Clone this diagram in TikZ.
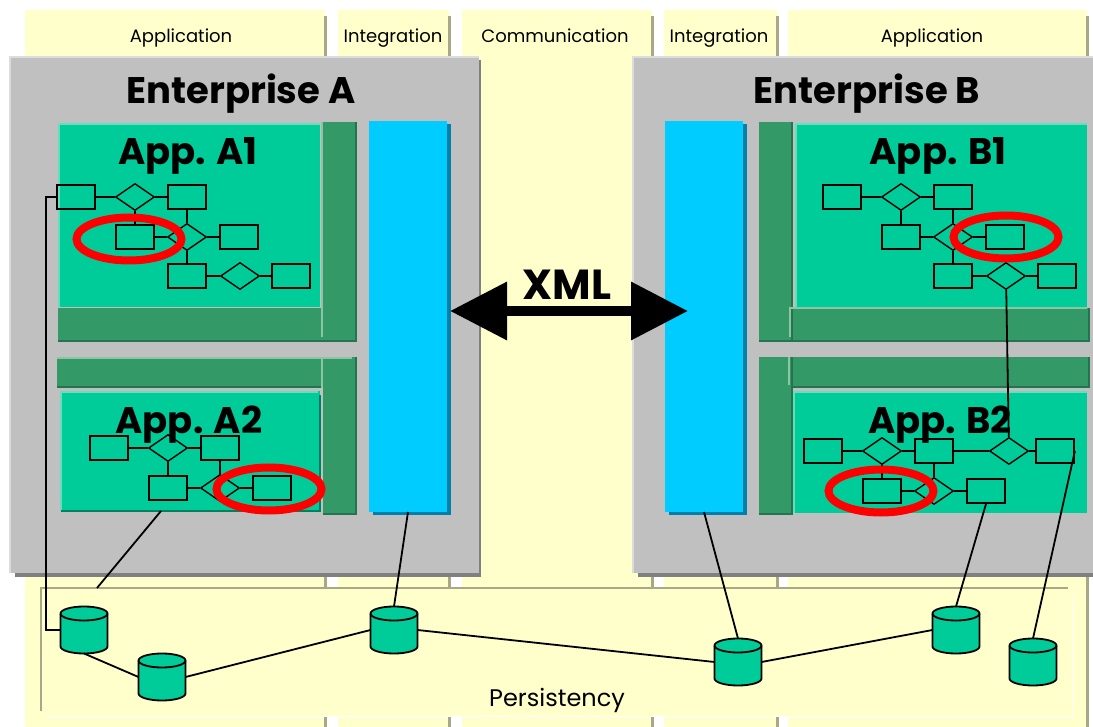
\documentclass[tikz,border=0pt]{standalone}
\usepackage{fontspec}
\setmainfont{Poppins}
\usetikzlibrary{shapes.geometric,arrows.meta}
\definecolor{colyellow}{HTML}{FFFFCC}
\definecolor{colshade}{HTML}{A8A888}
\definecolor{panelgray}{HTML}{C0C0C0}
\definecolor{panelshade}{HTML}{808080}
\definecolor{panellight}{HTML}{DCDCDC}
\definecolor{appgreen}{HTML}{00CC99}
\definecolor{applight}{HTML}{66DDBB}
\definecolor{appshade}{HTML}{008060}
\definecolor{barlight}{HTML}{8CC4A4}
\definecolor{bargreen}{HTML}{339966}
\definecolor{barshade}{HTML}{267350}
\definecolor{busblue}{HTML}{00CCFF}
\definecolor{busshade}{HTML}{0080A8}
\tikzset{
  plate/.style={inner sep=0,outer sep=0},
  collabel/.style={anchor=base,inner sep=0,font=\fontsize{18}{20}\selectfont},
  headlabel/.style={anchor=base,inner sep=0,font=\fontsize{37}{40}\selectfont\bfseries},
  applabel/.style={anchor=base,inner sep=0,font=\fontsize{37}{40}\selectfont\bfseries},
  entbox/.style={draw,line width=1.8pt,inner sep=0,minimum width=38,minimum height=24},
  relbox/.style={draw,line width=1.4pt,diamond,aspect=1.45,inner sep=0,minimum width=39,minimum height=27},
  marked/.style={draw=red,line width=8pt,ellipse,inner sep=0,minimum width=105,minimum height=43},
  storebox/.style={plate,minimum width=47,minimum height=47},
  link/.style={line width=1.8pt}
}
\begin{document}
\begin{tikzpicture}[x=1pt,y=-1pt]
  \useasboundingbox (0,0) rectangle (1093,727);
  \fill[white] (0,0) rectangle (1093,727);

  % columns
  \foreach \xa/\xb in {25/325,338/449,462/652,664/777,788/1087} {
    \fill[colyellow,rounded corners=2pt] (\xa,10) -- (\xb,10) -- (\xb,727) -- (\xa,727) -- cycle;
    \fill[colshade] (\xb-1,16) rectangle (\xb+2,727);
  }
  \node[collabel] (colA) at (181,43) {Application};
  \node[collabel] (colB) at (393,43) {Integration};
  \node[collabel] (colC) at (555,43) {Communication};
  \node[collabel] (colD) at (719,43) {Integration};
  \node[collabel] (colE) at (932,43) {Application};

  % persistency band
  \node[plate,fill=colyellow,minimum width=1032,minimum height=128] (persist) at (557,652) {};
  \draw[colshade,line width=1.5pt] (41,711) -- (41,588) -- (1068,588);
  \draw[white,line width=1pt] (45,716) -- (1073,716) -- (1073,595);
  \node[collabel,font=\fontsize{24}{28}\selectfont] (persistLabel) at (557,706) {Persistency};

  % enterprises
  \foreach \xa/\xb in {9/479,632/1093} {
    \fill[panelshade] (\xa+6,60) rectangle (\xb+2,577);
    \fill[panelgray] (\xa,56) rectangle (\xb,573);
    \draw[panellight,line width=2pt] (\xa+1,573) -- (\xa+1,57) -- (\xb,57);
  }
  \node[headlabel] (entA) at (241,104) {Enterprise A};
  \node[headlabel] (entB) at (867,104) {Enterprise B};

  % dark bars
  \foreach \xa/\ya/\xb/\yb in {58/308/357/342,322/122/357/342,57/357/357/388,323/357/357/515,
      789/308/1090/342,759/122/793/342,759/357/1090/388,759/357/793/515} {
    \fill[barshade] (\xa,\ya) rectangle (\xb,\yb);
    \fill[bargreen] (\xa,\ya) rectangle (\xb-2,\yb-2);
  }
  \draw[barlight,line width=1.2pt] (322,122) -- (322,337);
  \draw[barlight,line width=1.2pt] (322,357) -- (322,388);
  \draw[barlight,line width=1.2pt] (790,337) -- (790,308) -- (1087,308);
  \draw[barlight,line width=1.2pt] (789,357) -- (789,385);
  \draw[barlight,line width=1.5pt] (57,358) -- (352,358);

  % applications
  \node[plate,fill=appgreen,minimum width=262,minimum height=184] (appA1) at (189,215) {};
  \node[plate,fill=appgreen,minimum width=260,minimum height=120] (appA2) at (190,451) {};
  \node[plate,fill=appgreen,minimum width=292,minimum height=184] (appB1) at (941,215) {};
  \node[plate,fill=appgreen,minimum width=294,minimum height=122] (appB2) at (940,452) {};
  \draw[applight,line width=1.5pt] (59,307) -- (59,124) -- (320,124);
  \draw[applight,line width=1.5pt] (61,511) -- (61,392) -- (318,392);
  \draw[applight,line width=1.5pt] (796,307) -- (796,124) -- (1087,124);
  \draw[applight,line width=1.5pt] (794,513) -- (794,392) -- (1087,392);
  \draw[appshade,line width=1.5pt] (61,511) -- (320,511) -- (320,395);
  \node[applabel] (titleA1) at (188,165) {App. A1};
  \node[applabel] (titleA2) at (189,433) {App. A2};
  \node[applabel] (titleB1) at (938,165) {App. B1};
  \node[applabel] (titleB2) at (940,433) {App. B2};

  % integration buses
  \fill[busshade] (373,124) rectangle (451,515);
  \fill[busshade] (669,124) rectangle (747,515);
  \node[plate,fill=busblue,minimum width=78,minimum height=391] (busA) at (408,316.5) {};
  \node[plate,fill=busblue,minimum width=78,minimum height=391] (busB) at (704,316.5) {};

  % small models
  \foreach \nm/\dx/\dy in {a1/0/0,a2/33/251,b1/766/0,b2/747/254} {
    \node[entbox] (\nm e1) at (76+\dx,197+\dy) {};
    \node[relbox] (\nm r1) at (135+\dx,197+\dy) {};
    \node[entbox] (\nm e2) at (187+\dx,197+\dy) {};
    \node[entbox] (\nm e3) at (135+\dx,237+\dy) {};
    \node[relbox] (\nm r2) at (187+\dx,237+\dy) {};
    \node[entbox] (\nm e4) at (239+\dx,237+\dy) {};
    \draw[link] (\nm e1) -- (\nm r1);
    \draw[link] (\nm r1) -- (\nm e2);
    \draw[link] (\nm r1) -- (\nm e3);
    \draw[link] (\nm e3) -- (\nm r2);
    \draw[link] (\nm r2) -- (\nm e4);
    \draw[link] (\nm e2) -- (\nm r2);
  }
  \foreach \nm/\dx in {a1/0,b1/766} {
    \node[entbox] (\nm e5) at (187+\dx,276) {};
    \node[relbox] (\nm r3) at (240+\dx,276) {};
    \node[entbox] (\nm e6) at (291+\dx,276) {};
    \draw[link] (\nm r2) -- (\nm e5);
    \draw[link] (\nm e5) -- (\nm r3);
    \draw[link] (\nm r3) -- (\nm e6);
  }
  \node[relbox] (b2r3) at (1009,451) {};
  \node[entbox] (b2e6) at (1055,451) {};
  \draw[link] (b2e2) -- (b2r3);
  \draw[link] (b2r3) -- (b2e6);
  \draw[link] (b1r3) -- (b2r3);

  % marked parts
  \node[marked] (markA1) at (129,239) {};
  \node[marked] (markA2) at (269,489) {};
  \node[marked] (markB1) at (1006,237) {};
  \node[marked] (markB2) at (881,491) {};

  % exchange between enterprises
  \draw[line width=10pt,{Triangle[length=57pt,width=56pt]}-{Triangle[length=57pt,width=56pt]}]
    ([xshift=3,yshift=5.5]busA.east) -- ([xshift=23,yshift=5.5]busB.west);
  \node[anchor=base,inner sep=0,font=\fontsize{42}{46}\selectfont\bfseries] (xml) at (567,300) {XML};

  % stores
  \foreach \nm/\px/\py in {db1/84/630,db2/162/677,db3/394/630,db4/738/662,db5/956/630,db6/1033/662} {
    \node[storebox] (\nm) at (\px,\py) {};
    \draw[link,fill=appgreen] (\nm.west) ++(0,-16.5) -- ++(0,33)
      arc[start angle=180,end angle=360,x radius=23.5pt,y radius=7pt] -- ++(0,-33)
      arc[start angle=0,end angle=180,x radius=23.5pt,y radius=7pt];
    \draw[link] (\nm.west) ++(0,-16.5) arc[start angle=180,end angle=360,x radius=23.5pt,y radius=7pt];
  }
  \coordinate (bandA2) at (97,588);

  \draw[link] (a1e1.west) -- ++(-10,0) |- (db1.west);
  \draw[link] ([xshift=-29]appA2.south) -- (bandA2);
  \draw[link] (busA.south) -- (db3.north);
  \draw[link] (busB.south) -- (db4.north);
  \draw[link] (b2e4.south) -- (db5.north);
  \draw[link] (b2e6.east) -- (db6.north);
  \draw[link] (db1.south) -- (db2.west);
  \draw[link] (db2.east) -- (db3.west);
  \draw[link] (db3.east) -- (db4.west);
  \draw[link] (db4.east) -- (db5.west);
\end{tikzpicture}
\end{document}
